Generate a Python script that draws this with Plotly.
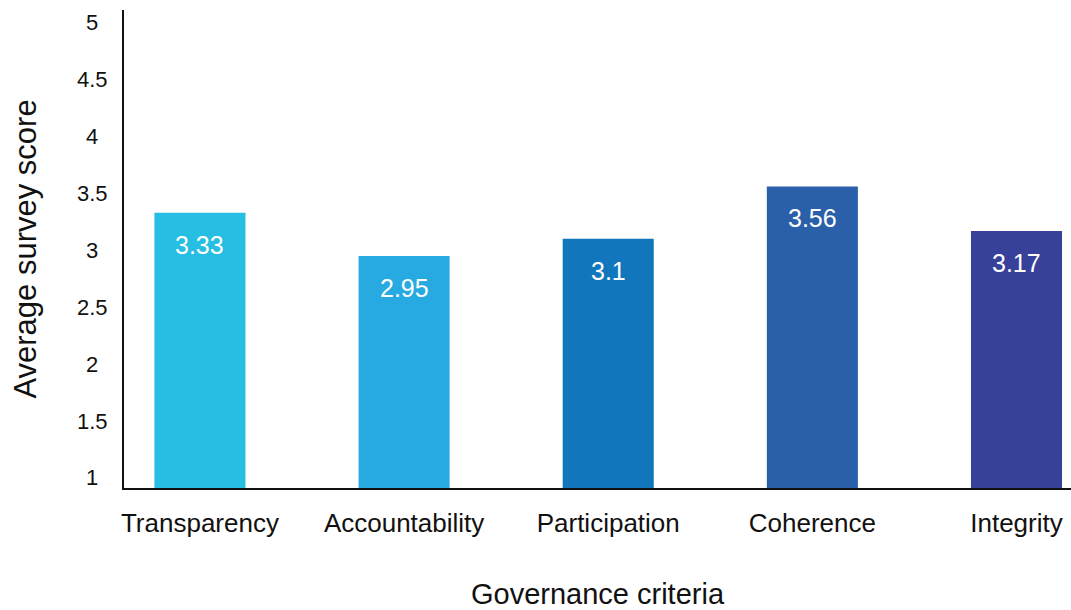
import plotly.graph_objects as go

# Average survey score by governance criterion
categories = ["Transparency", "Accountability", "Participation", "Coherence", "Integrity"]
scores = [3.33, 2.95, 3.1, 3.56, 3.17]
bar_colors = ["#27BEE3", "#27AAE1", "#1276BD", "#2A5FAA", "#374199"]
y_ticks = [1, 1.5, 2, 2.5, 3, 3.5, 4, 4.5, 5]
y_tick_labels = ["1", "1.5", "2", "2.5", "3", "3.5", "4", "4.5", "5"]

FONT = "Liberation Sans, Arial, Helvetica, sans-serif"
INK = "#111111"

fig = go.Figure()
fig.add_trace(go.Bar(
    x=categories,
    y=scores,
    marker=dict(color=bar_colors, line=dict(width=0)),
    width=0.446,
    hoverinfo="x+y",
))

annotations = []
# value labels inside the top of each bar
for cat, val in zip(categories, scores):
    annotations.append(dict(
        x=cat, y=val, xref="x", yref="y",
        text=f"{val:g}", showarrow=False,
        yanchor="middle", xanchor="center", yshift=-32,
        font=dict(family=FONT, size=25, color="white"),
    ))
# centred y tick labels
for t, lab in zip(y_ticks, y_tick_labels):
    annotations.append(dict(
        x=0, y=t, xref="paper", yref="y",
        text=lab, showarrow=False,
        xanchor="center", yanchor="middle", xshift=-32,
        font=dict(family=FONT, size=22, color=INK),
    ))

fig.update_layout(
    width=1071, height=610,
    margin=dict(l=124, r=0, t=10, b=122),
    paper_bgcolor="white", plot_bgcolor="white",
    showlegend=False,
    font=dict(family=FONT, color=INK),
    annotations=annotations,
    xaxis=dict(
        range=[-0.372, 4.267],
        showline=True, linecolor="#111111", linewidth=2,
        showgrid=False, zeroline=False, ticks="",
        ticklabelstandoff=11,
        tickfont=dict(family=FONT, size=26, color=INK),
        title=dict(text="Governance criteria", standoff=48,
                   font=dict(family=FONT, size=29, color=INK)),
    ),
    yaxis=dict(
        range=[0.912, 5.11],
        showline=True, linecolor="#111111", linewidth=2,
        showgrid=False, zeroline=False, ticks="",
        tickvals=y_ticks, showticklabels=False,
        title=dict(text="Average survey score", standoff=76,
                   font=dict(family=FONT, size=31, color=INK)),
    ),
)

fig.write_html("out.html")
